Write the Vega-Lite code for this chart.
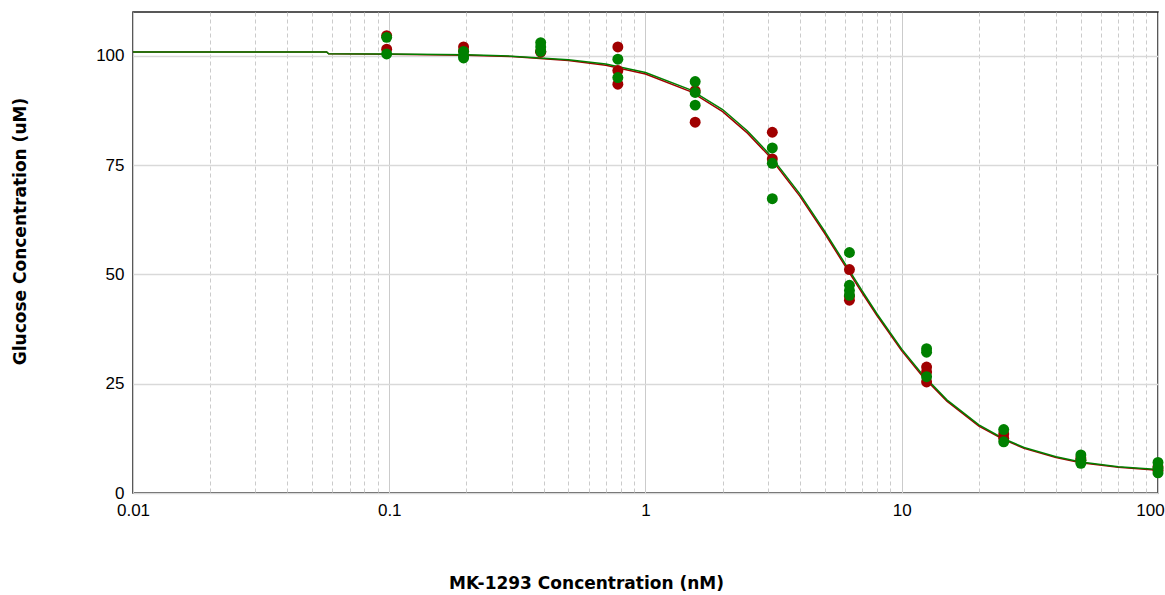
{
  "$schema": "https://vega.github.io/schema/vega-lite/v6.json",
  "width": 1025,
  "height": 481,
  "autosize": "none",
  "padding": {"left": 133, "top": 12, "right": 7, "bottom": 102},
  "background": "white",
  "config": {
    "view": {"stroke": "#222222", "strokeWidth": 1.5},
    "font": "Liberation Sans"
  },
  "datasets": {
    "curve": [
      {"series": "red", "conc": 0.01, "glucose": 100.85},
      {"series": "red", "conc": 0.057, "glucose": 100.85},
      {"series": "red", "conc": 0.058, "glucose": 100.45},
      {"series": "red", "conc": 0.1, "glucose": 100.35},
      {"series": "red", "conc": 0.2, "glucose": 100.1},
      {"series": "red", "conc": 0.3, "glucose": 99.8},
      {"series": "red", "conc": 0.5, "glucose": 98.9},
      {"series": "red", "conc": 0.7, "glucose": 97.8},
      {"series": "red", "conc": 1.0, "glucose": 95.8},
      {"series": "red", "conc": 1.5, "glucose": 91.8},
      {"series": "red", "conc": 2.0, "glucose": 87.2},
      {"series": "red", "conc": 2.5, "glucose": 82.3},
      {"series": "red", "conc": 3.0, "glucose": 77.4},
      {"series": "red", "conc": 4.0, "glucose": 67.9},
      {"series": "red", "conc": 5.0, "glucose": 59.4},
      {"series": "red", "conc": 6.0, "glucose": 52.0},
      {"series": "red", "conc": 7.0, "glucose": 45.8},
      {"series": "red", "conc": 8.0, "glucose": 40.6},
      {"series": "red", "conc": 10, "glucose": 32.5},
      {"series": "red", "conc": 12, "glucose": 26.8},
      {"series": "red", "conc": 15, "glucose": 21.0},
      {"series": "red", "conc": 20, "glucose": 15.3},
      {"series": "red", "conc": 25, "glucose": 12.2},
      {"series": "red", "conc": 30, "glucose": 10.2},
      {"series": "red", "conc": 40, "glucose": 8.1},
      {"series": "red", "conc": 50, "glucose": 6.9},
      {"series": "red", "conc": 70, "glucose": 5.9},
      {"series": "red", "conc": 100, "glucose": 5.2},
      {"series": "green", "conc": 0.01, "glucose": 100.85},
      {"series": "green", "conc": 0.057, "glucose": 100.85},
      {"series": "green", "conc": 0.058, "glucose": 100.45},
      {"series": "green", "conc": 0.1, "glucose": 100.4},
      {"series": "green", "conc": 0.2, "glucose": 100.2},
      {"series": "green", "conc": 0.3, "glucose": 99.9},
      {"series": "green", "conc": 0.5, "glucose": 99.1},
      {"series": "green", "conc": 0.7, "glucose": 98.1},
      {"series": "green", "conc": 1.0, "glucose": 96.15},
      {"series": "green", "conc": 1.5, "glucose": 92.2},
      {"series": "green", "conc": 2.0, "glucose": 87.7},
      {"series": "green", "conc": 2.5, "glucose": 82.8},
      {"series": "green", "conc": 3.0, "glucose": 77.9},
      {"series": "green", "conc": 4.0, "glucose": 68.4},
      {"series": "green", "conc": 5.0, "glucose": 59.9},
      {"series": "green", "conc": 6.0, "glucose": 52.5},
      {"series": "green", "conc": 7.0, "glucose": 46.3},
      {"series": "green", "conc": 8.0, "glucose": 41.0},
      {"series": "green", "conc": 10, "glucose": 32.9},
      {"series": "green", "conc": 12, "glucose": 27.2},
      {"series": "green", "conc": 15, "glucose": 21.3},
      {"series": "green", "conc": 20, "glucose": 15.6},
      {"series": "green", "conc": 25, "glucose": 12.4},
      {"series": "green", "conc": 30, "glucose": 10.4},
      {"series": "green", "conc": 40, "glucose": 8.3},
      {"series": "green", "conc": 50, "glucose": 7.1},
      {"series": "green", "conc": 70, "glucose": 6.0},
      {"series": "green", "conc": 100, "glucose": 5.4}
    ],
    "points": [
      {"series": "red", "conc": 0.0977, "glucose": 104.6},
      {"series": "red", "conc": 0.0977, "glucose": 101.5},
      {"series": "red", "conc": 0.195, "glucose": 102.0},
      {"series": "red", "conc": 0.195, "glucose": 101.0},
      {"series": "red", "conc": 0.39, "glucose": 101.0},
      {"series": "red", "conc": 0.39, "glucose": 100.8},
      {"series": "red", "conc": 0.78, "glucose": 102.0},
      {"series": "red", "conc": 0.78, "glucose": 96.6},
      {"series": "red", "conc": 0.78, "glucose": 93.5},
      {"series": "red", "conc": 1.5625, "glucose": 84.8},
      {"series": "red", "conc": 1.5625, "glucose": 92.0},
      {"series": "red", "conc": 3.125, "glucose": 82.5},
      {"series": "red", "conc": 3.125, "glucose": 76.4},
      {"series": "red", "conc": 6.25, "glucose": 51.1},
      {"series": "red", "conc": 6.25, "glucose": 45.0},
      {"series": "red", "conc": 6.25, "glucose": 44.1},
      {"series": "red", "conc": 12.5, "glucose": 28.8},
      {"series": "red", "conc": 12.5, "glucose": 27.7},
      {"series": "red", "conc": 12.5, "glucose": 25.4},
      {"series": "red", "conc": 25, "glucose": 13.5},
      {"series": "red", "conc": 25, "glucose": 12.5},
      {"series": "red", "conc": 50, "glucose": 8.0},
      {"series": "red", "conc": 50, "glucose": 7.5},
      {"series": "red", "conc": 100, "glucose": 6.0},
      {"series": "red", "conc": 100, "glucose": 5.2},
      {"series": "green", "conc": 0.0977, "glucose": 104.2},
      {"series": "green", "conc": 0.0977, "glucose": 100.4},
      {"series": "green", "conc": 0.195, "glucose": 101.0},
      {"series": "green", "conc": 0.195, "glucose": 100.0},
      {"series": "green", "conc": 0.195, "glucose": 99.5},
      {"series": "green", "conc": 0.39, "glucose": 103.0},
      {"series": "green", "conc": 0.39, "glucose": 102.0},
      {"series": "green", "conc": 0.39, "glucose": 101.0},
      {"series": "green", "conc": 0.78, "glucose": 99.2},
      {"series": "green", "conc": 0.78, "glucose": 95.0},
      {"series": "green", "conc": 1.5625, "glucose": 94.1},
      {"series": "green", "conc": 1.5625, "glucose": 91.6},
      {"series": "green", "conc": 1.5625, "glucose": 88.7},
      {"series": "green", "conc": 3.125, "glucose": 78.9},
      {"series": "green", "conc": 3.125, "glucose": 75.4},
      {"series": "green", "conc": 3.125, "glucose": 67.3},
      {"series": "green", "conc": 6.25, "glucose": 55.0},
      {"series": "green", "conc": 6.25, "glucose": 47.5},
      {"series": "green", "conc": 6.25, "glucose": 46.3},
      {"series": "green", "conc": 6.25, "glucose": 45.2},
      {"series": "green", "conc": 12.5, "glucose": 33.0},
      {"series": "green", "conc": 12.5, "glucose": 32.2},
      {"series": "green", "conc": 12.5, "glucose": 26.6},
      {"series": "green", "conc": 25, "glucose": 14.5},
      {"series": "green", "conc": 25, "glucose": 11.7},
      {"series": "green", "conc": 50, "glucose": 8.7},
      {"series": "green", "conc": 50, "glucose": 7.5},
      {"series": "green", "conc": 50, "glucose": 6.8},
      {"series": "green", "conc": 100, "glucose": 7.0},
      {"series": "green", "conc": 100, "glucose": 5.7},
      {"series": "green", "conc": 100, "glucose": 4.6}
    ]
  },
  "encoding": {
    "x": {
      "field": "conc",
      "type": "quantitative",
      "scale": {"type": "log", "domain": [0.01, 100], "nice": false},
      "axis": {
        "title": "MK-1293 Concentration (nM)",
        "values": [0.01, 0.02, 0.03, 0.04, 0.05, 0.06, 0.07, 0.08, 0.09, 0.1, 0.2, 0.3, 0.4, 0.5, 0.6, 0.7, 0.8, 0.9, 1, 2, 3, 4, 5, 6, 7, 8, 9, 10, 20, 30, 40, 50, 60, 70, 80, 90, 100],
        "labelExpr": "indexof([0.01, 0.1, 1, 10, 100], datum.value) >= 0 ? datum.label : ''",
        "format": "~g",
        "ticks": false,
        "domain": false,
        "grid": true,
        "gridColor": "#cbcbcb",
        "gridWidth": 1,
        "gridDash": {"condition": {"test": "indexof([0.01, 0.1, 1, 10, 100], datum.value) >= 0", "value": []}, "value": [4, 3]},
        "labelFont": "Liberation Sans",
        "labelFontSize": 17,
        "labelColor": "#000000",
        "labelPadding": 9,
        "labelOverlap": false,
        "labelBound": false,
        "labelFlush": false,
        "labelOffset": {"condition": {"test": "datum.value == 100", "value": -8}, "value": 0},
        "titleFont": "DejaVu Sans",
        "titleFontSize": 17,
        "titleFontWeight": "bold",
        "titleColor": "#000000",
        "titleX": 453,
        "titleY": 90,
        "titleBaseline": "middle",
        "titleAnchor": null,
        "titleAlign": "center"
      }
    },
    "y": {
      "field": "glucose",
      "type": "quantitative",
      "scale": {"domain": [0, 110], "nice": false, "zero": true},
      "axis": {
        "title": "Glucose Concentration (uM)",
        "values": [0, 25, 50, 75, 100],
        "ticks": false,
        "domain": false,
        "grid": true,
        "gridColor": "#d9d9d9",
        "gridWidth": 1.5,
        "labelFont": "Liberation Sans",
        "labelFontSize": 17,
        "labelColor": "#000000",
        "labelPadding": 9,
        "titleFont": "DejaVu Sans",
        "titleFontSize": 17,
        "titleFontWeight": "bold",
        "titleColor": "#000000",
        "titleX": -113,
        "titleY": 219,
        "titleAngle": -90,
        "titleBaseline": "middle",
        "titleAlign": "center"
      }
    },
    "color": {
      "field": "series",
      "type": "nominal",
      "scale": {"domain": ["red", "green"], "range": ["#a00000", "#008000"]},
      "legend": null
    }
  },
  "layer": [
    {
      "data": {"name": "curve"},
      "mark": {"type": "line", "strokeWidth": 1.5, "interpolate": "linear", "clip": true},
      "encoding": {"order": {"field": "conc", "type": "quantitative"}}
    },
    {
      "data": {"name": "points"},
      "mark": {"type": "circle", "size": 120, "opacity": 1}
    }
  ]
}
